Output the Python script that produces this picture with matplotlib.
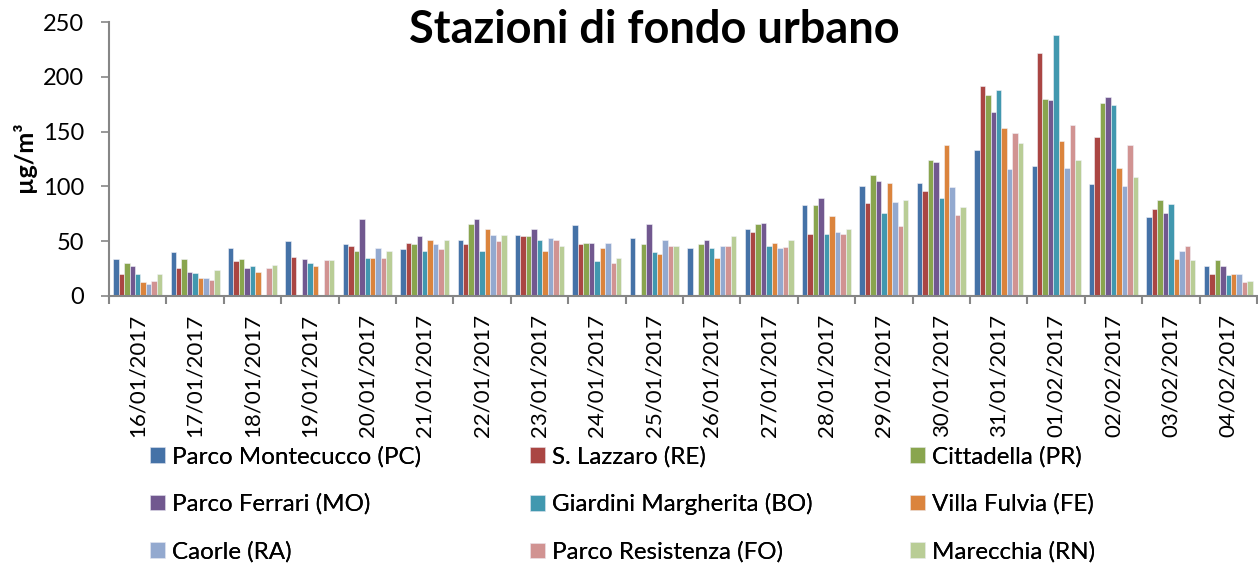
import matplotlib
matplotlib.use('Agg')
import matplotlib.pyplot as plt
import numpy as np
from matplotlib.ticker import FixedLocator, MultipleLocator

nan = np.nan

dates = ['16/01/2017', '17/01/2017', '18/01/2017', '19/01/2017', '20/01/2017',
         '21/01/2017', '22/01/2017', '23/01/2017', '24/01/2017', '25/01/2017',
         '26/01/2017', '27/01/2017', '28/01/2017', '29/01/2017', '30/01/2017',
         '31/01/2017', '01/02/2017', '02/02/2017', '03/02/2017', '04/02/2017']

stations = ['Parco Montecucco (PC)', 'S. Lazzaro (RE)', 'Cittadella (PR)',
            'Parco Ferrari (MO)', 'Giardini Margherita (BO)', 'Villa Fulvia (FE)',
            'Caorle (RA)', 'Parco Resistenza (FO)', 'Marecchia (RN)']

pc = [34, 40, 44, 50, 47, 43, 51, 56, 65, 53, 44, 61, 83, 100, 103, 133, 119, 102, 72, 27]
re_ = [20, 26, 32, 36, 46, 48, 47, 55, 47, nan, nan, 58, 57, 85, 96, 192, 222, 145, 79, 20]
pr = [30, 34, 34, nan, 41, 47, 66, 55, 48, 47, 47, 66, 83, 110, 124, 183, 180, 176, 88, 33]
mo = [27, 22, 26, 34, 70, 55, 70, 61, 48, 66, 51, 67, 89, 105, 122, 168, 179, 182, 76, 27]
bo = [20, 21, 27, 30, 35, 41, 41, 51, 32, 40, 44, 46, 57, 76, 89, 188, 238, 174, 84, 19]
fe = [13, 16, 22, 27, 35, 51, 61, 41, 44, 38, 35, 48, 73, 103, 138, 153, 141, 117, 34, 20]
ra = [11, 16, nan, nan, 44, 47, 56, 53, 48, 51, 46, 44, 58, 86, 99, 116, 117, 100, 41, 20]
fo = [14, 15, 26, 33, 35, 43, 50, 51, 30, 46, 46, 45, 57, 64, 74, 149, 156, 138, 46, 13]
rn = [20, 24, 28, 33, 41, 51, 56, 46, 35, 46, 55, 51, 61, 88, 81, 140, 124, 109, 33, 14]

series = [pc, re_, pr, mo, bo, fe, ra, fo, rn]
colors = ['#4572A7', '#AA4643', '#89A54E', '#71588F', '#4198AF',
          '#DB843D', '#93A9CF', '#D19392', '#B9CD96']

plt.rcParams['font.family'] = ['Lato', 'DejaVu Sans']

W, H = 1258, 563
fig = plt.figure(figsize=(W / 100, H / 100), dpi=100)
ax = fig.add_axes([109 / W, 1 - 296 / H, 1148 / W, 274 / H])

n = len(series)
w = 0.095
x = np.arange(len(dates)) + 0.5
for i, (vals, name, c) in enumerate(zip(series, stations, colors)):
    ax.bar(x + (i - (n - 1) / 2) * w, vals, width=w, color=c, label=name,
           edgecolor='#f2f2f8', linewidth=0.4)

ax.set_xlim(0, len(dates))
ax.set_ylim(0, 250)
ax.yaxis.set_major_locator(MultipleLocator(50))
ax.set_xticks(x)
ax.set_xticklabels(dates, rotation=90, fontsize=16)
ax.xaxis.set_minor_locator(FixedLocator(np.arange(len(dates) + 1)))
ax.tick_params(axis='x', which='major', length=0, pad=13)
ax.tick_params(axis='x', which='minor', length=6, width=1.5, color='#868686')
ax.tick_params(axis='y', length=6, width=1.2, color='#868686', labelsize=17, pad=12)

for s in ['top', 'right']:
    ax.spines[s].set_visible(False)
for s in ['left', 'bottom']:
    ax.spines[s].set_color('#868686')
    ax.spines[s].set_linewidth(1.5)

fig.text(654 / W, 1 - 43 / H, 'Stazioni di fondo urbano', ha='center',
         va='baseline', fontsize=32.5, fontweight='bold')
fig.text(24 / W, 1 - 157 / H, 'µg/m³', rotation=90, ha='center', va='center',
         fontsize=18, fontweight='bold')

# legend: 3 equal-width columns, filled row by row
handles, labels = ax.get_legend_handles_labels()
col_x = [150, 530, 910]
for col in range(3):
    idx = [col, col + 3, col + 6]
    leg = fig.legend([handles[k] for k in idx], [labels[k] for k in idx],
                     loc='upper left', bbox_to_anchor=(col_x[col] / W, 1 - 446 / H),
                     ncol=1, frameon=False, fontsize=17.4, handlelength=0.62,
                     handleheight=0.62, handletextpad=0.28, labelspacing=1.07,
                     borderpad=0, borderaxespad=0)
    fig.add_artist(leg)

plt.savefig('out.png', dpi=100)
